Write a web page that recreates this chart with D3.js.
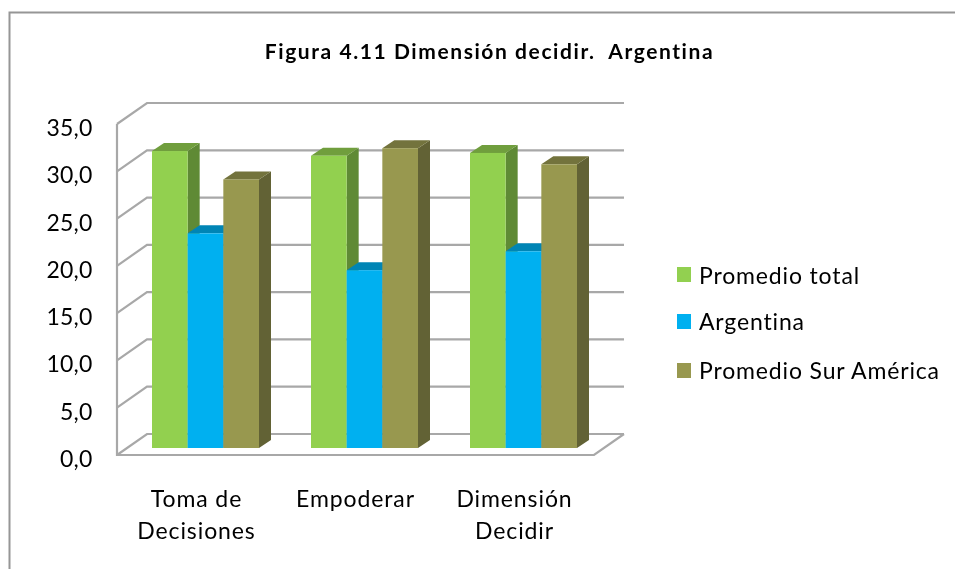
<!DOCTYPE html>
<html><head><meta charset="utf-8">
<script src="https://cdn.jsdelivr.net/npm/d3@7"></script>
<style>html,body{margin:0;padding:0;background:#fff}svg{display:block}text{font-family:Lato,"Open Sans",sans-serif;fill:#000;white-space:pre}</style>
</head><body><div id="c"></div>
<script>
const categories = [["Toma de","Decisiones"],["Empoderar"],["Dimensión","Decidir"]];
const seriesNames = ["Promedio total","Argentina","Promedio Sur América"];
const promedioTotal = [31.4,30.9,31.2];
const argentina = [22.7,18.8,20.8];
const promedioSur = [28.4,31.7,30.0];
const seriesValues = [promedioTotal,argentina,promedioSur];
const yTicks = [0,5,10,15,20,25,30,35];
const titleText = "Figura 4.11 Dimensión decidir.  Argentina";
const colors = [{f:"#92d050",t:"#6f9e3c",s:"#5f8a35"},{f:"#00b0f0",t:"#0085b5",s:"#0085b5"},{f:"#98984f",t:"#73733c",s:"#626234"}];

const W=955,H=569;
const svg=d3.select("#c").append("svg").attr("width",W).attr("height",H);
const defs=svg.append("defs");
defs.append("filter").attr("id","soft").append("feGaussianBlur").attr("stdDeviation",0.45);
defs.append("filter").attr("id","softText").append("feGaussianBlur").attr("stdDeviation",0.2);
const soft=svg.append("g").attr("filter","url(#soft)");

// chart frame: only top and left are visible
soft.append("path").attr("d",`M9.5,${H} V12.5 H${W}`).attr("fill","none").attr("stroke","#969696").attr("stroke-width",2);

const wall={dx:30,dy:-21}, plane={dx:9,dy:-7}, depth={dx:12,dy:-8};
const y=d3.scaleLinear().domain([0,35]).range([455,124]);
const x0=d3.scaleBand().domain(d3.range(categories.length)).range([117,594]);
const x1=d3.scaleBand().domain(d3.range(seriesNames.length)).range([0,107]);
const groupOffset=(x0.bandwidth()-x1.range()[1])/2;

const gridC="#a8a8a8";
const grid=soft.append("g").attr("fill","none").attr("stroke",gridC).attr("stroke-width",2.2);
yTicks.forEach(t=>{
  const yy=y(t);
  grid.append("path").attr("d",`M${x0.range()[0]},${yy} L${x0.range()[0]+wall.dx},${yy+wall.dy} H${x0.range()[1]+wall.dx}`);
});
grid.append("path").attr("d",`M${x0.range()[0]},${y(35)} V${y(0)} H${x0.range()[1]} L${x0.range()[1]+wall.dx},${y(0)+wall.dy}`);

// bars, drawn left to right so that each covers its neighbour's side
const bars=soft.append("g");
categories.forEach((c,i)=>{
  seriesNames.forEach((s,j)=>{
    const v=seriesValues[j][i], col=colors[j];
    const xl=x0(i)+groupOffset+plane.dx+x1(j), xr=xl+x1.bandwidth();
    const yb=y(0)+plane.dy, yt=y(v)+plane.dy;
    const g=bars.append("g");
    g.append("path").attr("fill",col.s).attr("d",`M${xr},${yt} L${xr+depth.dx},${yt+depth.dy} V${yb+depth.dy} L${xr},${yb} Z`);
    g.append("path").attr("fill",col.t).attr("d",`M${xl},${yt} L${xl+depth.dx},${yt+depth.dy} H${xr+depth.dx} L${xr},${yt} Z`);
    g.append("rect").attr("x",xl).attr("y",yt).attr("width",x1.bandwidth()).attr("height",yb-yt).attr("fill",col.f);
  });
});

// texts
const tg=svg.append("g").attr("filter","url(#softText)");
tg.append("text").attr("x",489.5).attr("y",59).attr("text-anchor","middle").attr("font-size",21).attr("font-weight",700).attr("letter-spacing",1.58).text(titleText);
const fmt=d=>d3.format(".1f")(d).replace(".",",");
yTicks.forEach(t=>{
  tg.append("text").attr("x",92.5).attr("y",y(t)+12).attr("text-anchor","end").attr("font-size",23).attr("letter-spacing",0.2).text(fmt(t));
});
categories.forEach((c,i)=>{
  const cx=x0(i)+x0.bandwidth()/2;
  c.forEach((ln,k)=>{
    tg.append("text").attr("x",cx).attr("y",507+k*32).attr("text-anchor","middle").attr("font-size",23).attr("letter-spacing",0.9).text(ln);
  });
});
const legY=[267,314,363], legBase=[284,330,379];
seriesNames.forEach((s,j)=>{
  svg.append("rect").attr("x",677).attr("y",legY[j]).attr("width",14).attr("height",15).attr("fill",colors[j].f);
  tg.append("text").attr("x",699).attr("y",legBase[j]).attr("font-size",23).attr("letter-spacing",0.85).text(s);
});
</script></body></html>
